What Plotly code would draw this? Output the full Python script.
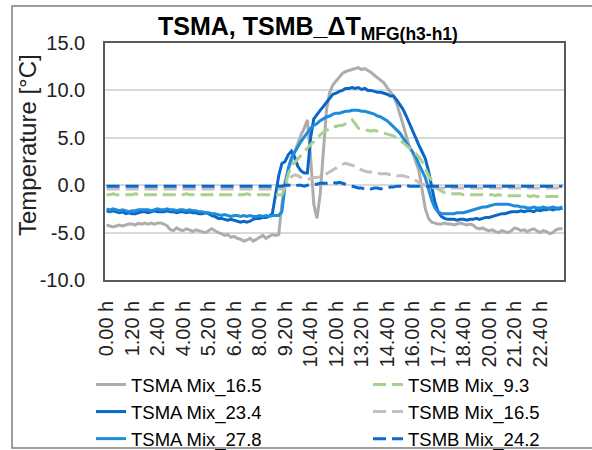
import plotly.graph_objects as go

# ---- data (10-minute steps, 0.00 h ... 23.50 h) ----
TIME_LABELS = [f"{i // 6}.{(i % 6) * 10:02d} h" for i in range(144)]
TICK_LABELS = ["0.00 h", "1.20 h", "2.40 h", "4.00 h", "5.20 h", "6.40 h",
               "8.00 h", "9.20 h", "10.40 h", "12.00 h", "13.20 h", "14.40 h",
               "16.00 h", "17.20 h", "18.40 h", "20.00 h", "21.20 h", "22.40 h"]
Y_TICK_VALUES = [-10, -5, 0, 5, 10, 15]
Y_TICK_TEXT = ["-10.0", "-5.0", "0.0", "5.0", "10.0", "15.0"]

TSMA_MIX_16_5 = [
    -4.2, -4.3, -4.4, -4.3, -4.2, -4.3,
    -4.2, -4.1, -4.1, -4.2, -4.0, -4.1,
    -4.0, -4.1, -4.0, -4.1, -4.0, -4.0,
    -4.1, -4.3, -4.7, -4.8, -4.5, -4.7,
    -4.8, -4.6, -4.7, -4.9, -4.7, -4.8,
    -4.9, -5.0, -4.8, -4.6, -4.8, -5.0,
    -5.1, -5.3, -5.2, -5.5, -5.4, -5.6,
    -5.7, -5.9, -5.8, -5.6, -5.9, -5.7,
    -5.5, -5.3, -5.6, -5.4, -5.2, -5.3,
    -5.2, -2.0, 0.5, 1.6, 2.6, 3.5,
    4.4, 5.3, 6.0, 6.9, 3.0, -2.0,
    -3.5, -1.0, 4.0, 8.0, 9.8, 10.6,
    11.0, 11.4, 11.8, 12.0, 12.1, 12.2,
    12.3, 12.4, 12.2, 12.3, 12.1, 11.9,
    11.6, 11.3, 11.1, 10.8, 10.3, 9.9,
    9.4, 8.6, 7.6, 6.4, 5.2, 4.0,
    3.5, 2.6, 1.5, -0.5, -2.5, -3.5,
    -3.9, -4.0, -4.1, -4.1, -4.0, -4.1,
    -4.1, -4.2, -4.1, -4.0, -4.1, -4.2,
    -4.1, -4.2, -4.5, -4.6, -4.5, -4.7,
    -4.8, -4.7, -4.9, -5.0, -4.8, -4.9,
    -5.0, -4.8, -4.5, -4.6, -4.8, -4.7,
    -4.9, -4.7, -4.6, -4.8, -5.0, -4.8,
    -4.9, -5.1, -5.0, -4.7, -4.6, -4.6,
]

TSMA_MIX_23_4 = [
    -2.7, -2.8, -2.7, -2.8, -2.9, -2.8,
    -3.0, -2.9, -3.0, -3.0, -2.9, -2.8,
    -2.8, -2.9, -2.8, -2.7, -2.8, -2.8,
    -2.8, -2.7, -2.8, -2.8, -2.9, -2.8,
    -2.8, -2.9, -2.8, -2.9, -2.9, -3.0,
    -3.0, -2.9, -3.0, -3.2, -3.3, -3.5,
    -3.5, -3.6, -3.7, -3.6, -3.7, -3.8,
    -3.9, -3.8, -3.9, -3.8, -3.6, -3.5,
    -3.5, -3.4, -3.4, -3.3, -3.0, -1.0,
    1.0, 2.3, 2.5, 3.2, 3.6, 3.0,
    2.0, 1.5, 1.3, 1.3, 5.0, 7.0,
    7.5, 7.9, 8.3, 8.7, 9.2, 9.6,
    9.7, 9.9, 10.0, 10.2, 10.2, 10.3,
    10.2, 10.3, 10.1, 10.2, 10.0, 10.0,
    9.9, 9.8, 9.8, 9.7, 9.6, 9.4,
    9.4, 9.0, 8.5, 8.0, 7.3, 6.5,
    5.6, 4.9, 4.2, 3.5, 2.8, 1.5,
    -0.3, -1.8, -2.8, -3.3, -3.5, -3.6,
    -3.6, -3.6, -3.7, -3.6, -3.6, -3.7,
    -3.6, -3.6, -3.5, -3.6, -3.5, -3.4,
    -3.4, -3.3, -3.2, -3.1, -3.0, -3.0,
    -2.9, -2.8, -2.8, -2.8, -2.7, -2.8,
    -2.7, -2.7, -2.8, -2.6, -2.7, -2.6,
    -2.6, -2.5, -2.6, -2.5, -2.5, -2.4,
]

TSMA_MIX_27_8 = [
    -2.5, -2.6, -2.5, -2.6, -2.7, -2.6,
    -2.7, -2.8, -2.7, -2.7, -2.6, -2.6,
    -2.6, -2.6, -2.7, -2.6, -2.5, -2.6,
    -2.6, -2.5, -2.6, -2.6, -2.7, -2.6,
    -2.6, -2.7, -2.6, -2.7, -2.7, -2.8,
    -2.8, -2.9, -2.9, -3.0, -3.0, -3.1,
    -3.2, -3.1, -3.2, -3.3, -3.2, -3.2,
    -3.3, -3.2, -3.3, -3.2, -3.3, -3.3,
    -3.2, -3.3, -3.2, -3.3, -3.2, -3.2,
    -3.2, -2.8, 0.0, 1.8, 2.9, 3.5,
    4.1, 4.6, 5.1, 5.6, 6.0, 6.3,
    6.5, 6.8, 7.0, 7.2, 7.3, 7.5,
    7.6, 7.6, 7.7, 7.8, 7.8, 7.9,
    7.9, 7.9, 7.8, 7.8, 7.7, 7.6,
    7.5, 7.3, 7.2, 7.0, 6.8, 6.5,
    6.2, 5.9, 5.5, 5.0, 4.5, 4.0,
    3.5, 3.0, 2.2, 1.5, 0.8, -0.4,
    -1.6, -2.4, -2.8, -3.0, -3.0, -3.0,
    -3.0, -3.0, -2.9, -2.9, -2.9, -2.8,
    -2.7, -2.6, -2.5, -2.4, -2.3, -2.3,
    -2.2, -2.1, -2.0, -2.0, -2.0, -2.0,
    -2.0, -2.1, -2.2, -2.2, -2.3, -2.3,
    -2.4, -2.4, -2.3, -2.4, -2.4, -2.3,
    -2.4, -2.4, -2.3, -2.4, -2.4, -2.3,
]

TSMB_MIX_9_3 = [
    -1.0, -1.0, -0.9, -1.0, -1.0, -1.0,
    -1.0, -1.0, -1.0, -0.9, -1.0, -1.0,
    -1.0, -1.0, -1.0, -1.0, -1.0, -0.9,
    -1.0, -1.0, -1.0, -1.0, -1.0, -1.0,
    -1.0, -0.9, -1.0, -1.0, -1.0, -1.0,
    -1.0, -1.0, -1.0, -1.0, -0.9, -1.0,
    -1.0, -1.0, -1.0, -1.0, -1.0, -1.0,
    -1.0, -1.0, -0.9, -1.0, -1.0, -1.0,
    -1.0, -1.0, -1.0, -1.0, -1.0, -1.0,
    -1.0, -1.0, -0.2, 1.2, 2.0, 2.4,
    2.7, 3.2, 3.6, 4.0, 4.3, 4.6,
    5.0, 5.3, 5.6, 5.8, 6.0, 6.2,
    6.2, 6.3, 6.3, 6.5, 6.7, 6.9,
    6.5, 6.0, 5.9, 5.8, 5.8, 5.7,
    5.8, 5.7, 5.6, 5.5, 5.4, 5.3,
    5.2, 5.0, 4.8, 4.5, 4.2, 4.0,
    3.7, 3.3, 3.0, 2.5, 1.8, 1.0,
    0.5, 0.0, -0.4, -0.6, -0.8, -0.8,
    -0.9, -0.9, -0.9, -0.9, -1.0, -1.0,
    -1.0, -1.0, -1.0, -1.0, -1.0, -1.0,
    -1.0, -1.0, -1.1, -1.0, -1.1, -1.1,
    -1.1, -1.1, -1.1, -1.1, -1.1, -1.1,
    -1.1, -1.2, -1.1, -1.2, -1.2, -1.2,
    -1.2, -1.2, -1.2, -1.2, -1.2, -1.2,
]

TSMB_MIX_16_5 = [
    -0.4, -0.4, -0.4, -0.4, -0.4, -0.4,
    -0.4, -0.4, -0.4, -0.4, -0.4, -0.4,
    -0.4, -0.4, -0.4, -0.4, -0.4, -0.4,
    -0.4, -0.4, -0.4, -0.4, -0.4, -0.4,
    -0.4, -0.4, -0.4, -0.4, -0.4, -0.4,
    -0.4, -0.4, -0.4, -0.4, -0.4, -0.4,
    -0.4, -0.4, -0.4, -0.4, -0.4, -0.4,
    -0.4, -0.4, -0.4, -0.4, -0.4, -0.4,
    -0.4, -0.4, -0.4, -0.4, -0.4, -0.4,
    -0.4, -0.4, -0.2, 0.5, 0.9, 1.1,
    1.0, 0.8, 0.7, 0.6, 0.7, 0.8,
    0.8, 0.9, 1.0, 1.2, 1.4, 1.6,
    1.8, 2.0, 2.2, 2.3, 2.2, 2.1,
    2.0, 1.8, 1.6, 1.5, 1.4, 1.4,
    1.3, 1.3, 1.2, 1.2, 1.2, 1.1,
    1.1, 1.0, 1.0, 1.0, 0.9, 0.8,
    0.7, 0.5, 0.3, 0.1, 0.0, -0.1,
    -0.2, -0.3, -0.3, -0.3, -0.3, -0.3,
    -0.3, -0.3, -0.3, -0.3, -0.3, -0.3,
    -0.3, -0.3, -0.3, -0.3, -0.3, -0.3,
    -0.3, -0.3, -0.3, -0.3, -0.3, -0.3,
    -0.3, -0.3, -0.3, -0.3, -0.3, -0.3,
    -0.3, -0.3, -0.3, -0.3, -0.3, -0.3,
    -0.3, -0.3, -0.3, -0.3, -0.3, -0.3,
]

TSMB_MIX_24_2 = [
    -0.1, -0.1, -0.1, -0.1, -0.1, -0.1,
    -0.1, -0.1, -0.1, -0.1, -0.1, -0.1,
    -0.1, -0.1, -0.1, -0.1, -0.1, -0.1,
    -0.1, -0.1, -0.1, -0.1, -0.1, -0.1,
    -0.1, -0.1, -0.1, -0.1, -0.1, -0.1,
    -0.1, -0.1, -0.1, -0.1, -0.1, -0.1,
    -0.1, -0.1, -0.1, -0.1, -0.1, -0.1,
    -0.1, -0.1, -0.1, -0.1, -0.1, -0.1,
    -0.1, -0.1, -0.1, -0.1, -0.1, -0.1,
    -0.1, -0.1, 0.0, 0.0, 0.0, -0.1,
    0.0, 0.0, -0.1, 0.0, 0.1, 0.1,
    0.1, 0.2, 0.2, 0.2, 0.3, 0.3,
    0.2, 0.3, 0.2, 0.1, 0.0, -0.1,
    -0.2, -0.3, -0.3, -0.4, -0.3, -0.4,
    -0.3, -0.3, -0.4, -0.3, -0.3, -0.2,
    -0.2, -0.1, -0.1, -0.1, 0.0, -0.1,
    -0.1, -0.1, -0.1, -0.1, -0.1, -0.1,
    -0.1, -0.1, -0.1, -0.1, -0.1, -0.1,
    -0.1, -0.1, -0.1, -0.1, -0.1, -0.1,
    -0.1, -0.1, -0.1, -0.1, -0.1, -0.1,
    -0.1, -0.1, -0.1, -0.1, -0.1, -0.1,
    -0.1, -0.1, -0.1, -0.1, -0.1, -0.1,
    -0.1, -0.1, -0.1, -0.1, -0.1, -0.1,
    -0.1, -0.1, -0.1, -0.1, -0.1, -0.1,
]

SERIES = [
    ("TSMA Mix_16.5", TSMA_MIX_16_5, "#ADADAD", "solid", 1),
    ("TSMA Mix_23.4", TSMA_MIX_23_4, "#0A67C8", "solid", 3),
    ("TSMA Mix_27.8", TSMA_MIX_27_8, "#1E8CDB", "solid", 5),
    ("TSMB Mix_9.3", TSMB_MIX_9_3, "#A9D18E", "13px,6px", 2),
    ("TSMB Mix_16.5", TSMB_MIX_16_5, "#C5BEBC", "13px,6px", 4),
    ("TSMB Mix_24.2", TSMB_MIX_24_2, "#0A6ACB", "13px,6px", 6),
]

FONT = "Liberation Sans, Arial, sans-serif"

fig = go.Figure()
for name, vals, color, dash, rank in SERIES:
    fig.add_trace(go.Scatter(
        x=TIME_LABELS, y=vals, name=name, mode="lines",
        line=dict(color=color, width=3, dash=dash),
        legendrank=rank,
    ))

W, H = 592, 450
ML, MR, MT, MB = 105, 28, 43, 170
PW, PH = W - ML - MR, H - MT - MB


def px_x(px):
    return (px - ML) / PW


def px_y(py):
    return (H - MB - py) / PH


fig.update_layout(
    width=W, height=H, autosize=False,
    margin=dict(l=ML, r=MR, t=MT, b=MB, autoexpand=False),
    paper_bgcolor="white", plot_bgcolor="white",
    font=dict(family=FONT, size=20, color="#222222"),
    title=dict(
        text="TSMA, TSMB_ΔT<sub>MFG(h3-h1)</sub>",
        font=dict(family=FONT, size=25, color="#000000", weight="bold"),
        xref="paper", x=px_x(158), xanchor="left",
        yref="container", y=1 - 26 / H, yanchor="middle",
    ),
    xaxis=dict(
        type="category", categoryorder="array", categoryarray=TIME_LABELS,
        tickmode="array", tickvals=TICK_LABELS, ticktext=TICK_LABELS,
        tickangle=-90, ticks="", showgrid=False, zeroline=False,
        showline=True, linecolor="#595959", linewidth=1.5, mirror=True,
        tickfont=dict(size=20, color="#222222"),
        ticklabelstandoff=11, automargin=False,
        range=[-0.5, 143.5],
    ),
    yaxis=dict(
        range=[-10, 15], tickmode="array",
        tickvals=Y_TICK_VALUES, ticktext=Y_TICK_TEXT,
        showgrid=True, gridcolor="#D9D9D9", gridwidth=1.5,
        zeroline=False, ticks="",
        showline=True, linecolor="#595959", linewidth=1.5, mirror=True,
        tickfont=dict(size=20, color="#222222"),
        ticklabelstandoff=14, automargin=False,
    ),
    legend=dict(
        orientation="h", x=px_x(91), y=px_y(366), xanchor="left", yanchor="top",
        entrywidth=232, font=dict(size=18.5, color="#000000"),
        bgcolor="rgba(0,0,0,0)", tracegroupgap=0,
    ),
    annotations=[dict(
        text="Temperature [°C]", textangle=-90, showarrow=False,
        xref="paper", yref="paper", x=px_x(27), y=px_y(145),
        xanchor="center", yanchor="middle",
        font=dict(family=FONT, size=24, color="#222222"),
    )],
    shapes=[dict(
        type="rect", xref="paper", yref="paper",
        x0=px_x(12), x1=px_x(640), y0=px_y(448), y1=px_y(6),
        line=dict(color="#7F7F7F", width=1.5), fillcolor="rgba(0,0,0,0)",
        layer="below",
    )],
)

fig.write_html(
    "out.html",
    config={"displayModeBar": False},
    post_script="document.body.style.margin='0';document.body.style.overflow='hidden';",
)
